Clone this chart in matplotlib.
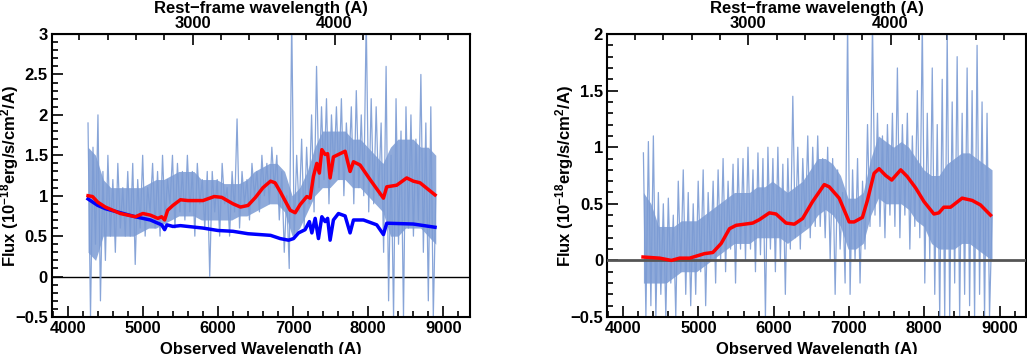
import numpy as np
import matplotlib
matplotlib.use('Agg')
import matplotlib.pyplot as plt
from matplotlib.ticker import MultipleLocator, FuncFormatter

plt.rcParams['font.family'] = ['Liberation Sans', 'DejaVu Sans']
plt.rcParams['font.weight'] = 'bold'
plt.rcParams['mathtext.fontset'] = 'custom'
plt.rcParams['mathtext.bf'] = 'Liberation Sans:bold'
plt.rcParams['mathtext.rm'] = 'Liberation Sans:bold'
plt.rcParams['mathtext.default'] = 'bf'

# redshift factor for the rest-frame axis (1+z)
one_plus_z = 1.888

# ---- left panel: observed spectrum (hand read, ~33 A steps from 4270 to 8900)
flux_left = [
    1.9, -0.5, 1.6, 0.4, 2.0, -0.3, 1.3, 0.2, 1.5, 0.5,
    1.2, 0.3, 1.4, 0.6, 1.1, 0.5, 1.3, 0.5, 1.4, 0.15,
    1.2, 0.6, 1.5, 0.5, 1.1, 0.8, 1.4, 0.6, 1.3, 0.5,
    1.5, 0.7, 1.2, 0.9, 1.5, 0.6, 1.4, 0.8, 1.3, 0.7,
    1.5, 0.8, 1.3, 0.5, 1.4, 0.9, 1.2, 0.6, 1.3, 0.0,
    1.3, 0.8, 1.2, 0.5, 1.4, 0.9, 1.1, 0.5, 1.3, 0.8,
    1.95, 0.6, 1.3, 0.9, 1.2, 0.7, 1.4, 1.0, 1.3, 0.8,
    1.5, 1.0, 1.4, 0.9, 1.6, 1.1, 1.5, 0.7, 1.3, 0.3,
    1.0, 0.1, 3.2, 0.5, 1.5, 0.8, 1.7, 0.6, 1.6, 0.9,
    2.0, 0.8, 2.6, 1.1, 2.1, 1.2, 2.2, 0.9, 2.0, 1.3,
    2.1, 1.2, 2.2, 1.0, 1.9, 1.3, 2.1, 0.9, 2.3, 1.1,
    2.0, 1.0, 3.2, 0.8, 2.2, 0.9, 2.1, 1.0, 1.9, 0.3,
    2.6, -0.3, 1.5, -0.5, 2.2, 0.4, 1.8, -0.5, 2.1, 0.6,
    2.0, 0.5, 1.7, 0.7, 2.5, 0.3, 1.9, -0.3, 2.1, -0.5,
    1.0,
]
# dense core of the spectrum (lower / upper edge, ~100 A steps)
core_left_lo = [0.3, 0.2, 0.5, 0.5, 0.5, 0.5, 0.5, 0.55, 0.6, 0.6,
                0.65, 0.7, 0.75, 0.75, 0.75, 0.7, 0.7, 0.7, 0.7, 0.7,
                0.75, 0.75, 0.8, 0.85, 0.9, 0.9, 0.8, 0.5, 0.6, 0.8,
                1.0, 1.1, 1.1, 1.2, 1.2, 1.1, 1.1, 1.0, 0.9, 0.8,
                0.5, 0.5, 0.6, 0.6, 0.6, 0.5, 0.4]
core_left_hi = [1.6, 1.5, 1.2, 1.1, 1.1, 1.1, 1.1, 1.1, 1.15, 1.2,
                1.2, 1.25, 1.3, 1.3, 1.3, 1.2, 1.2, 1.2, 1.15, 1.15,
                1.15, 1.2, 1.3, 1.35, 1.4, 1.4, 1.3, 1.0, 1.1, 1.3,
                1.6, 1.8, 1.8, 1.8, 1.8, 1.7, 1.7, 1.6, 1.5, 1.4,
                1.6, 1.7, 1.7, 1.7, 1.6, 1.6, 1.5]

# best-fit model (red) and continuum component (blue), left panel
model_left_wave = [4270, 4330, 4400, 4500, 4600, 4700, 4800, 4900, 5000, 5100,
                   5200, 5250, 5290, 5330, 5400, 5500, 5600, 5800, 5950, 6050,
                   6200, 6300, 6400, 6500, 6600, 6700, 6760, 6829, 6962, 7028,
                   7094, 7183, 7228, 7271, 7316, 7350, 7383, 7427, 7460, 7493,
                   7537, 7626, 7693, 7759, 7804, 7892, 8025, 8203, 8247, 8380,
                   8513, 8601, 8690, 8890]
model_left_flux = [1.00, 0.99, 0.92, 0.86, 0.82, 0.78, 0.76, 0.74, 0.78, 0.76,
                   0.72, 0.74, 0.70, 0.82, 0.88, 0.95, 0.94, 0.94, 0.99, 0.98,
                   0.90, 0.86, 0.88, 0.98, 1.10, 1.18, 1.16, 1.05, 0.82, 0.79,
                   0.89, 0.99, 0.97, 1.24, 1.40, 1.28, 1.57, 1.51, 1.52, 1.22,
                   1.48, 1.52, 1.55, 1.30, 1.42, 1.38, 1.20, 0.97, 1.11, 1.13,
                   1.22, 1.18, 1.16, 1.01]

cont_left_wave = [4270, 4400, 4500, 4700, 4900, 5100, 5250, 5290, 5320, 5400,
                  5500, 5800, 6000, 6200, 6400, 6700, 6829, 6940, 7006, 7072,
                  7160, 7217, 7250, 7294, 7338, 7383, 7427, 7460, 7493, 7537,
                  7604, 7693, 7759, 7804, 7937, 8114, 8203, 8247, 8601, 8890]
cont_left_flux = [0.96, 0.88, 0.84, 0.79, 0.74, 0.70, 0.64, 0.58, 0.64, 0.62,
                  0.63, 0.60, 0.57, 0.56, 0.53, 0.51, 0.47, 0.45, 0.47, 0.54,
                  0.58, 0.68, 0.54, 0.72, 0.47, 0.74, 0.68, 0.72, 0.45, 0.70,
                  0.78, 0.75, 0.54, 0.70, 0.70, 0.64, 0.52, 0.66, 0.65, 0.61]

# ---- right panel
flux_right = [
    0.95, -0.5, 1.05, -0.4, 1.1, -0.5, 0.6, -0.3, 0.5, -0.5,
    0.55, -0.2, 0.4, -0.5, 0.7, -0.1, 0.8, -0.3, 0.6, -0.4,
    0.5, -0.3, 0.7, -0.1, 0.8, -0.4, 0.6, 0.0, 0.7, -0.2,
    0.8, 0.0, 0.9, -0.1, 0.7, 0.1, 0.85, -0.2, 0.9, 0.1,
    0.9, 0.0, 1.0, 0.1, 0.8, -0.1, 0.95, 0.05, 0.9, -0.5,
    1.0, 0.1, 0.9, -0.1, 1.0, 0.0, 0.85, -0.3, 0.9, 0.1,
    1.45, 0.2, 1.0, 0.1, 0.9, 0.3, 1.1, 0.2, 1.0, 0.3,
    1.1, 0.3, 0.9, 0.2, 1.0, 0.0, 0.9, -0.3, 0.8, 0.1,
    0.6, -0.2, 2.1, -0.3, 0.8, 0.0, 0.9, -0.2, 0.7, 0.1,
    1.2, 0.3, 2.1, 0.4, 1.3, 0.3, 1.1, 0.2, 1.2, 0.4,
    1.3, 0.3, 1.7, 0.2, 1.2, 0.4, 1.3, 0.1, 1.1, 0.3,
    1.5, 0.2, 2.1, -0.2, 1.3, 0.0, 1.7, -0.3, 1.2, -0.5,
    1.6, -0.5, 2.0, -0.5, 1.4, -0.2, 1.8, -0.5, 1.3, -0.3,
    1.7, -0.4, 1.5, -0.5, 1.9, -0.3, 1.4, -0.5, 1.3, -0.5,
    0.4,
]
core_right_lo = [-0.2, -0.2, -0.2, -0.2, -0.15, -0.1, -0.1, -0.1, -0.05, 0.0,
                 0.05, 0.1, 0.15, 0.15, 0.15, 0.2, 0.2, 0.2, 0.2, 0.15,
                 0.2, 0.25, 0.3, 0.4, 0.45, 0.4, 0.3, 0.1, 0.1, 0.15,
                 0.4, 0.55, 0.5, 0.5, 0.5, 0.45, 0.35, 0.3, 0.15, 0.1,
                 0.1, 0.1, 0.15, 0.15, 0.1, 0.05, 0.0]
core_right_hi = [0.6, 0.5, 0.3, 0.3, 0.3, 0.35, 0.35, 0.35, 0.4, 0.45,
                 0.5, 0.55, 0.6, 0.6, 0.6, 0.65, 0.65, 0.7, 0.65, 0.6,
                 0.65, 0.7, 0.8, 0.9, 0.9, 0.85, 0.75, 0.55, 0.55, 0.6,
                 0.9, 1.1, 1.05, 1.0, 1.05, 1.0, 0.9, 0.8, 0.75, 0.75,
                 0.85, 0.9, 0.95, 0.95, 0.9, 0.85, 0.8]

model_right_wave = [4265, 4486, 4641, 4751, 4884, 5082, 5192, 5303, 5413, 5501,
                    5722, 5810, 5943, 6032, 6164, 6274, 6384, 6517, 6672, 6738,
                    6870, 7003, 7069, 7179, 7245, 7334, 7400, 7488, 7568, 7687,
                    7775, 7886, 7996, 8128, 8194, 8260, 8349, 8503, 8636, 8747,
                    8880]
model_right_flux = [0.03, 0.02, 0.00, 0.02, 0.02, 0.06, 0.07, 0.15, 0.28, 0.31,
                    0.33, 0.36, 0.42, 0.41, 0.33, 0.32, 0.37, 0.52, 0.67, 0.65,
                    0.55, 0.34, 0.34, 0.38, 0.53, 0.77, 0.81, 0.75, 0.71, 0.80,
                    0.74, 0.64, 0.52, 0.41, 0.42, 0.47, 0.47, 0.55, 0.53, 0.49,
                    0.40]

spec_color = '#7b9bd4'


def style_axes(ax, ylim):
    ax.set_xlim(3790, 9355)
    ax.set_ylim(*ylim)
    ax.xaxis.set_major_locator(MultipleLocator(1000))
    ax.xaxis.set_minor_locator(MultipleLocator(200))
    ax.yaxis.set_major_locator(MultipleLocator(0.5))
    ax.yaxis.set_minor_locator(MultipleLocator(0.1))
    ax.yaxis.set_major_formatter(FuncFormatter(lambda v, p: ('%g' % v).replace('-', '\u2212')))
    ax.tick_params(which='both', direction='in', top=False, right=False,
                   labelsize=12, width=1.2)
    ax.tick_params(which='major', length=8, pad=3)
    ax.tick_params(which='minor', length=4)
    for s in ax.spines.values():
        s.set_linewidth(1.5)
    ax.set_xlabel('Observed Wavelength (A)', fontsize=12, fontweight='bold', labelpad=4)
    ax.set_ylabel('Flux (10$^{-18}$erg/s/cm$^{2}$/A)', fontsize=12, fontweight='bold')
    ax.yaxis.set_label_coords(-0.074, 0.5)
    sec = ax.secondary_xaxis('top', functions=(lambda x: x / one_plus_z, lambda x: x * one_plus_z))
    sec.xaxis.set_major_locator(MultipleLocator(1000))
    sec.xaxis.set_minor_locator(MultipleLocator(200))
    sec.tick_params(which='both', direction='in', labelsize=12, width=1.2)
    sec.tick_params(which='major', length=8, pad=2)
    sec.tick_params(which='minor', length=4)
    sec.set_xlabel('Rest\u2212frame wavelength (A)', fontsize=12, fontweight='bold', labelpad=2)
    return sec


def draw_spectrum(ax, flux, lo, hi):
    w = np.linspace(4270, 8900, len(flux))
    wc = np.linspace(4270, 8900, len(lo))
    ax.fill_between(wc, lo, hi, color=spec_color, alpha=0.85, lw=0, zorder=2)
    ax.plot(w, flux, color=spec_color, lw=0.9, alpha=0.9, zorder=2)


fig = plt.figure(figsize=(10.27, 3.54), dpi=100)

ax1 = fig.add_axes([0.0506, 0.1045, 0.407, 0.7994])
ax1.axhline(0, color='black', lw=1.0, zorder=1)
draw_spectrum(ax1, flux_left, core_left_lo, core_left_hi)
ax1.plot(model_left_wave, model_left_flux, color='red', lw=2.5, zorder=4)
ax1.plot(cont_left_wave, cont_left_flux, color='blue', lw=2.5, zorder=3)
style_axes(ax1, (-0.5, 3))

ax2 = fig.add_axes([0.5913, 0.1045, 0.408, 0.7994])
ax2.axhline(0, color='#555555', lw=2.0, zorder=3)
draw_spectrum(ax2, flux_right, core_right_lo, core_right_hi)
ax2.plot(model_right_wave, model_right_flux, color='red', lw=2.5, zorder=4)
style_axes(ax2, (-0.5, 2))

fig.savefig('out.png', dpi=100)
